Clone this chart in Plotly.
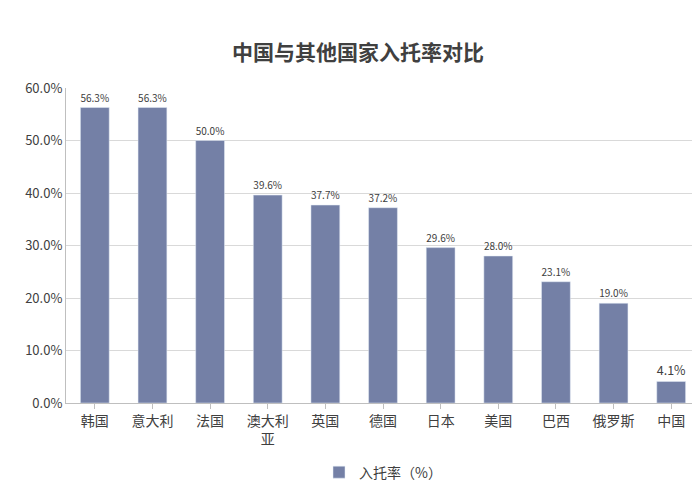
import plotly.graph_objects as go

countries = ['韩国', '意大利', '法国', '澳大利<br>亚', '英国', '德国', '日本', '美国', '巴西', '俄罗斯', '中国']
rates = [56.3, 56.3, 50.0, 39.6, 37.7, 37.2, 29.6, 28.0, 23.1, 19.0, 4.1]
ytick_vals = [0, 10, 20, 30, 40, 50, 60]
ytick_text = ['0.0%', '10.0%', '20.0%', '30.0%', '40.0%', '50.0%', '60.0%']

fig = go.Figure()
fig.add_trace(go.Bar(
    x=list(range(len(countries))),
    y=rates,
    name='入托率（%）',
    marker=dict(color='#7480A6'),
    width=0.5,
    text=[f'{v:.1f}%' for v in rates],
    textposition='outside',
    textfont=dict(size=14, color='#404040'),
    cliponaxis=False,
))

fig.update_layout(
    width=700, height=500,
    title=dict(text='<b>中国与其他国家入托率对比</b>', x=0.5, xanchor='center', y=0.925,
               font=dict(size=21, color='#404040', family='Noto Sans CJK SC')),
    font=dict(family='Noto Sans CJK SC', size=14, color='#404040'),
    plot_bgcolor='white', paper_bgcolor='white',
    margin=dict(l=58, r=8, t=80, b=105),
    xaxis=dict(tickmode='array', tickvals=list(range(len(countries))), ticktext=countries,
               range=[-0.5, 10.5], showline=True, linecolor='#bfbfbf',
               ticks='outside', ticklen=5, tickcolor='#bfbfbf', automargin=False),
    yaxis=dict(range=[0, 60], tickvals=ytick_vals, ticktext=ytick_text,
               showgrid=True, gridcolor='#d9d9d9', zeroline=False,
               showline=True, linecolor='#bfbfbf', automargin=False,
               tickfont=dict(size=13)),
    showlegend=True,
    legend=dict(orientation='h', x=0.5, xanchor='center', y=-0.17, yanchor='top',
                font=dict(size=14)),
    bargap=0.5,
)

fig.write_html("out.html")
